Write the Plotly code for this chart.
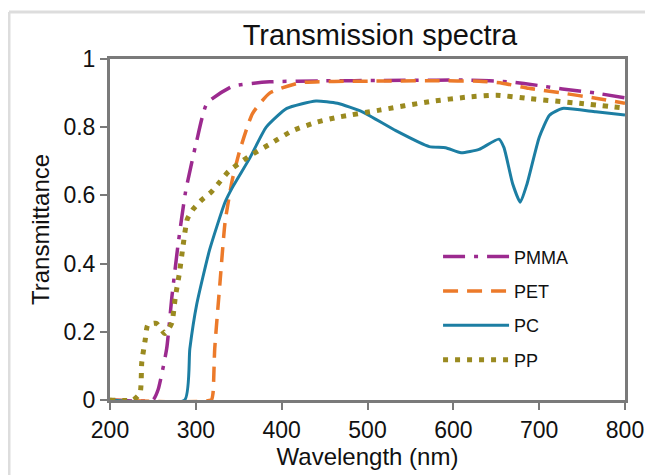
import plotly.graph_objects as go

# PMMA
pmma_x = [200, 250, 256, 266, 272, 279, 288, 301, 313, 343, 386, 450, 520, 580, 619, 665, 700, 727, 766, 800]
pmma_y = [0, 0, 0.03, 0.15, 0.30, 0.45, 0.61, 0.76, 0.87, 0.92, 0.933, 0.936, 0.937, 0.938, 0.938, 0.933, 0.922, 0.912, 0.90, 0.886]
# PET
pet_x = [200, 318, 320, 322, 328, 334, 342, 351, 366, 386, 421, 500, 580, 630, 657, 688, 727, 766, 800]
pet_y = [0, 0, 0.02, 0.15, 0.34, 0.52, 0.64, 0.73, 0.84, 0.90, 0.93, 0.935, 0.936, 0.935, 0.929, 0.914, 0.90, 0.885, 0.87]
# PC
pc_x = [200, 287, 293, 301, 316, 334, 343, 363, 382, 406, 440, 465, 494, 533, 572, 591, 609, 630, 653, 659, 669, 678, 686, 700, 712, 727, 766, 800]
pc_y = [0, 0, 0.15, 0.28, 0.44, 0.58, 0.625, 0.71, 0.80, 0.855, 0.877, 0.87, 0.845, 0.79, 0.743, 0.74, 0.725, 0.735, 0.765, 0.74, 0.635, 0.58, 0.635, 0.77, 0.835, 0.855, 0.845, 0.836]
# PP
pp_x = [200, 227, 235, 237, 241, 244, 254, 264, 272, 276, 281, 285, 290, 297, 307, 318, 328, 338, 361, 386, 413, 441, 467, 514, 572, 619, 650, 688, 747, 800]
pp_y = [0, 0, 0.02, 0.11, 0.176, 0.22, 0.225, 0.195, 0.226, 0.30, 0.375, 0.45, 0.53, 0.56, 0.587, 0.61, 0.64, 0.67, 0.713, 0.75, 0.79, 0.815, 0.83, 0.85, 0.875, 0.889, 0.894, 0.884, 0.87, 0.856]

x_ticks = [200, 300, 400, 500, 600, 700, 800]
y_ticks = [0, 0.2, 0.4, 0.6, 0.8, 1]

fig = go.Figure()
fig.add_trace(go.Scatter(x=pmma_x, y=pmma_y, name="PMMA", mode="lines", legendgroup="a",
                         line=dict(color="#9c2a8f", width=3.5, dash="22px,9px,4px,9px",
                                   shape="spline", smoothing=0.5)))
fig.add_trace(go.Scatter(x=pet_x, y=pet_y, name="PET", mode="lines", legendgroup="b",
                         line=dict(color="#ec7a2a", width=3.5, dash="15px,9px",
                                   shape="spline", smoothing=0.5)))
fig.add_trace(go.Scatter(x=pc_x, y=pc_y, name="PC", mode="lines", legendgroup="c",
                         line=dict(color="#1c7ea3", width=3, shape="spline", smoothing=0.5)))
fig.add_trace(go.Scatter(x=pp_x, y=pp_y, name="PP", mode="lines", legendgroup="d",
                         line=dict(color="#9a8a20", width=5, dash="5px,7px",
                                   shape="spline", smoothing=0.5)))

font = "Liberation Sans, Arial, sans-serif"
fig.update_layout(
    template="none",
    width=645, height=467,
    margin=dict(l=102, r=28, t=51, b=75, autoexpand=False),
    paper_bgcolor="white", plot_bgcolor="white",
    font=dict(family=font, color="#111111", size=18),
    title=dict(text="Transmission spectra", x=(380 - 8) / 645, xanchor="center",
               y=1 - (35 - 8) / 467, yanchor="middle", yref="container",
               font=dict(size=29, family=font, color="#111111")),
    showlegend=True,
    legend=dict(x=0.637, y=0.474, xanchor="left", yanchor="top",
                bgcolor="rgba(0,0,0,0)", itemwidth=66, borderwidth=0,
                font=dict(size=18, family=font, color="#111111"),
                tracegroupgap=8),
    xaxis=dict(range=[200, 800], tickvals=x_ticks, showgrid=False, zeroline=False,
               automargin=False,
               showline=True, linecolor="#7a7a7a", linewidth=3, mirror=True,
               ticks="outside", ticklen=7, tickcolor="#7a7a7a", tickwidth=1.5,
               tickfont=dict(size=23),
               title=dict(text="Wavelength (nm)", font=dict(size=24), standoff=6)),
    yaxis=dict(range=[0, 1], tickvals=y_ticks, showgrid=False, zeroline=False,
               automargin=False,
               showline=True, linecolor="#7a7a7a", linewidth=3, mirror=True,
               ticks="outside", ticklen=7, tickcolor="#7a7a7a", tickwidth=1.5,
               tickfont=dict(size=23),
               title=dict(text="Transmittance", font=dict(size=24), standoff=8)),
    shapes=[
        dict(type="line", xref="paper", yref="paper", x0=(9 - 110) / 515, x1=1.1,
             y0=(400 - 12) / 341, y1=(400 - 12) / 341, line=dict(color="#dddddd", width=3)),
        dict(type="line", xref="paper", yref="paper", x0=(9 - 110) / 515, x1=(9 - 110) / 515,
             y0=(400 - 12) / 341, y1=-0.3, line=dict(color="#dddddd", width=3)),
    ],
)
fig.write_html("out.html")
